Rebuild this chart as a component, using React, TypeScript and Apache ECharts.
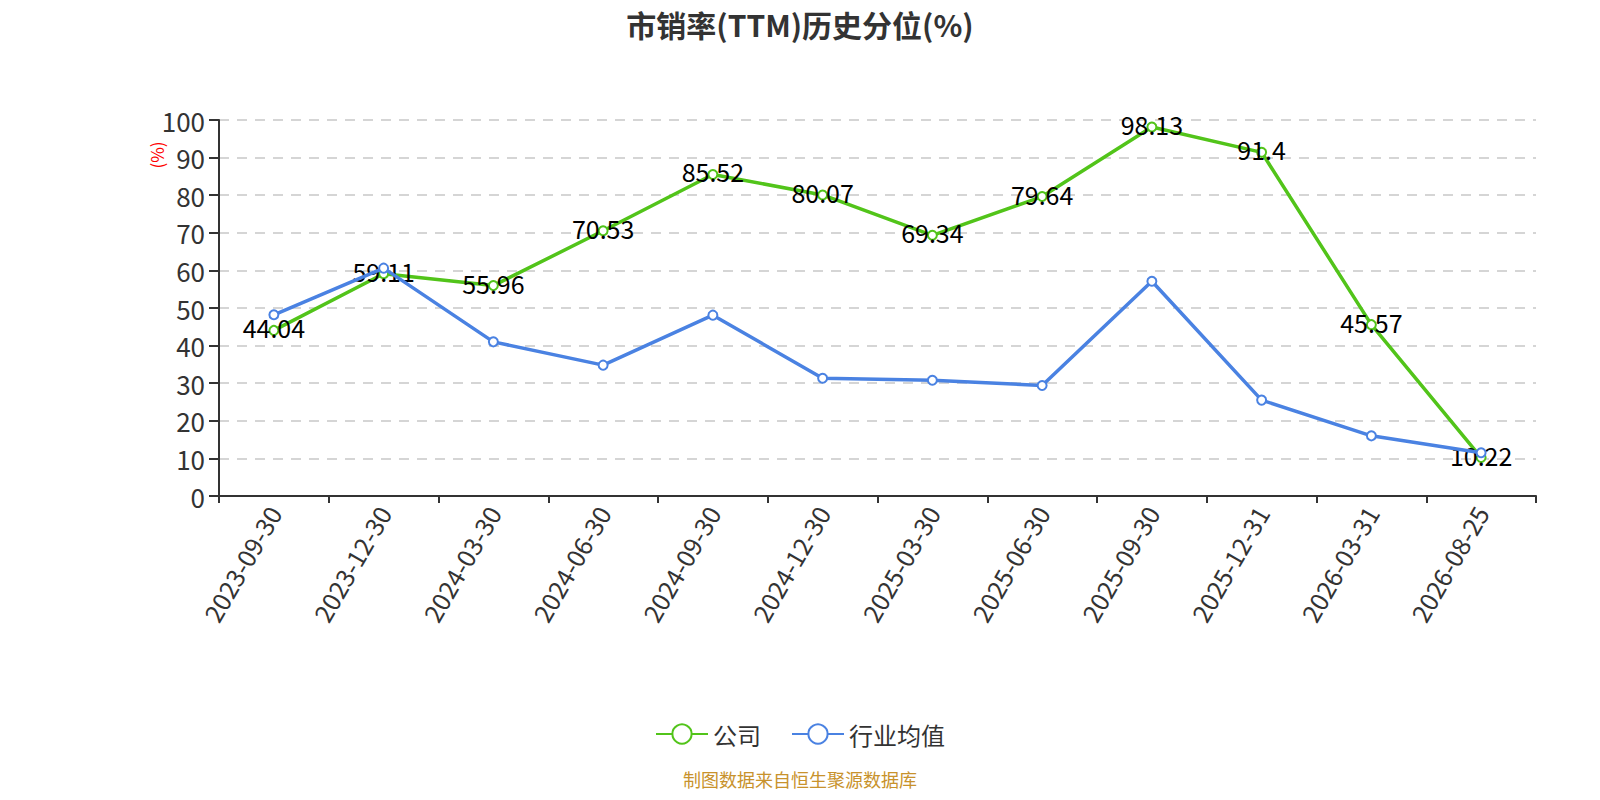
import React, { useEffect, useRef } from "react";
import * as echarts from "echarts";

const categories = [
  "2023-09-30", "2023-12-30", "2024-03-30", "2024-06-30", "2024-09-30", "2024-12-30",
  "2025-03-30", "2025-06-30", "2025-09-30", "2025-12-31", "2026-03-31", "2026-08-25",
];
const companyValues = [44.04, 59.11, 55.96, 70.53, 85.52, 80.07, 69.34, 79.64, 98.13, 91.4, 45.57, 10.22];
const industryValues = [48.2, 60.6, 41.0, 34.8, 48.1, 31.3, 30.8, 29.4, 57.1, 25.5, 16.0, 11.5];
const yTicks = { min: 0, max: 100, interval: 10 };

const FONT = "'Noto Sans CJK SC', 'Noto Sans', sans-serif";

export default function App() {
  const ref = useRef<HTMLDivElement>(null);
  useEffect(() => {
    if (!ref.current) return;
    const chart = echarts.init(ref.current, undefined, { renderer: "svg" });
    chart.setOption({
      animation: false,
      textStyle: { fontFamily: FONT },
      title: {
        text: "市销率(TTM)历史分位(%)",
        left: "center",
        top: 0,
        padding: [1, 5, 5, 5],
        textStyle: { fontSize: 30, fontWeight: "bold", color: "#333", fontFamily: FONT },
      },
      grid: { left: 211, right: 56, top: 112, bottom: 296 },
      legend: {
        top: 709,
        left: "center",
        itemWidth: 52,
        itemHeight: 24,
        itemGap: 30,
        textStyle: { fontSize: 24, color: "#333", fontFamily: FONT },
        data: ["公司", "行业均值"],
      },
      graphic: [
        {
          type: "text",
          x: 148,
          y: 147,
          rotation: Math.PI / 2,
          style: {
            text: "(%)",
            fill: "#ff0000",
            fontSize: 17,
            fontFamily: FONT,
            align: "center",
            verticalAlign: "middle",
          },
        },
        {
          type: "text",
          left: "center",
          top: 762,
          style: {
            text: "制图数据来自恒生聚源数据库",
            fill: "#c8922c",
            fontSize: 18,
            fontFamily: FONT,
          },
        },
      ],
      xAxis: {
        type: "category",
        data: categories,
        boundaryGap: true,
        axisLine: { lineStyle: { color: "#333", width: 2 } },
        axisTick: { show: true, alignWithLabel: false, length: 7, lineStyle: { color: "#333", width: 2 } },
        axisLabel: { rotate: 60, fontSize: 25, color: "#333", margin: 12, interval: 0, fontFamily: FONT },
      },
      yAxis: {
        type: "value",
        min: yTicks.min,
        max: yTicks.max,
        interval: yTicks.interval,
        axisLine: { show: true, lineStyle: { color: "#333", width: 2 } },
        axisTick: { show: true, length: 10, lineStyle: { color: "#333", width: 2 } },
        axisLabel: { fontSize: 26, color: "#333", margin: 14, fontFamily: FONT },
        splitLine: { show: true, lineStyle: { type: [10, 8], color: "#c8c8c8", width: 1.5 } },
      },
      series: [
        {
          name: "公司",
          type: "line",
          data: companyValues,
          symbol: "emptyCircle",
          symbolSize: 9,
          itemStyle: { color: "#52c41a", borderWidth: 2 },
          lineStyle: { width: 3.5, color: "#52c41a" },
          label: {
            show: true,
            position: "inside",
            offset: [0, -3],
            fontSize: 25,
            color: "#000",
            fontFamily: FONT,
          },
          z: 2,
        },
        {
          name: "行业均值",
          type: "line",
          data: industryValues,
          symbol: "emptyCircle",
          symbolSize: 9,
          itemStyle: { color: "#4a82e2", borderWidth: 2 },
          lineStyle: { width: 3.5, color: "#4a82e2" },
          z: 3,
        },
      ],
    });
    return () => chart.dispose();
  }, []);
  return <div ref={ref} style={{ width: 1584, height: 784 }} />;
}
